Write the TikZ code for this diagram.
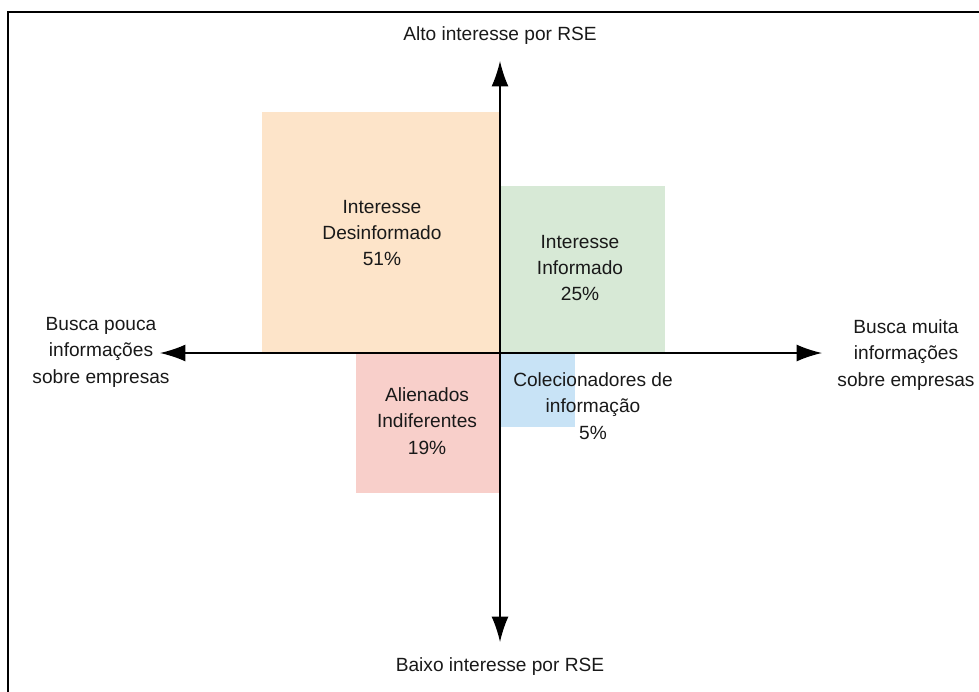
\documentclass[tikz,border=0pt]{standalone}
\usepackage{fontspec}
\setmainfont{Liberation Sans}
\usetikzlibrary{arrows.meta}
\definecolor{boxorange}{HTML}{FDE4C9}
\definecolor{boxgreen}{HTML}{D7E9D6}
\definecolor{boxred}{HTML}{F8CFCA}
\definecolor{boxblue}{HTML}{C8E3F6}
\begin{document}
\begin{tikzpicture}[x=0.025cm,y=-0.025cm,
	lbl/.style={align=center,font=\fontsize{13.6}{18.8}\selectfont,text=black!90},
	axis/.style={line width=1pt,{Latex[length=18pt,width=12pt]}-{Latex[length=18pt,width=12pt]}}]
	\useasboundingbox (0,0) rectangle (979,691);
	\draw[line width=2pt] (8,12) rectangle (1010,720);
	\foreach \xa/\ya/\xb/\yb/\c in {262/112/500/353/boxorange,500/186/665/353/boxgreen,
	                              356/353/500/493/boxred,500/353/575/427/boxblue}
	  {
	      \fill[\c] (\xa,\ya) rectangle (\xb,\yb);
	  }
	\coordinate (top) at (500,61);
	\coordinate (bottom) at (500,642);
	\coordinate (left) at (160,353);
	\coordinate (right) at (822,353);
	\draw[axis] (top) -- (bottom);
	\draw[axis] (left) -- (right);

	\node[lbl] (alto) at (500,36) {Alto interesse por RSE};
	\node[lbl] (baixo) at (500,667) {Baixo interesse por RSE};
	\node[lbl] (pouca) at (101,352) {Busca pouca\\informações\\sobre empresas};
	\node[lbl] (muita) at (906,355) {Busca muita\\informações\\sobre empresas};

	\node[lbl] (desinf) at (382,233) {Interesse\\Desinformado\\51\%};
	\node[lbl] (inform) at (580,268) {Interesse\\Informado\\25\%};
	\node[lbl] (alien) at (427,421) {Alienados\\Indiferentes\\19\%};
	\node[lbl] (colec) at (593,406) {Colecionadores de\\informação\\5\%};
\end{tikzpicture}
\end{document}
